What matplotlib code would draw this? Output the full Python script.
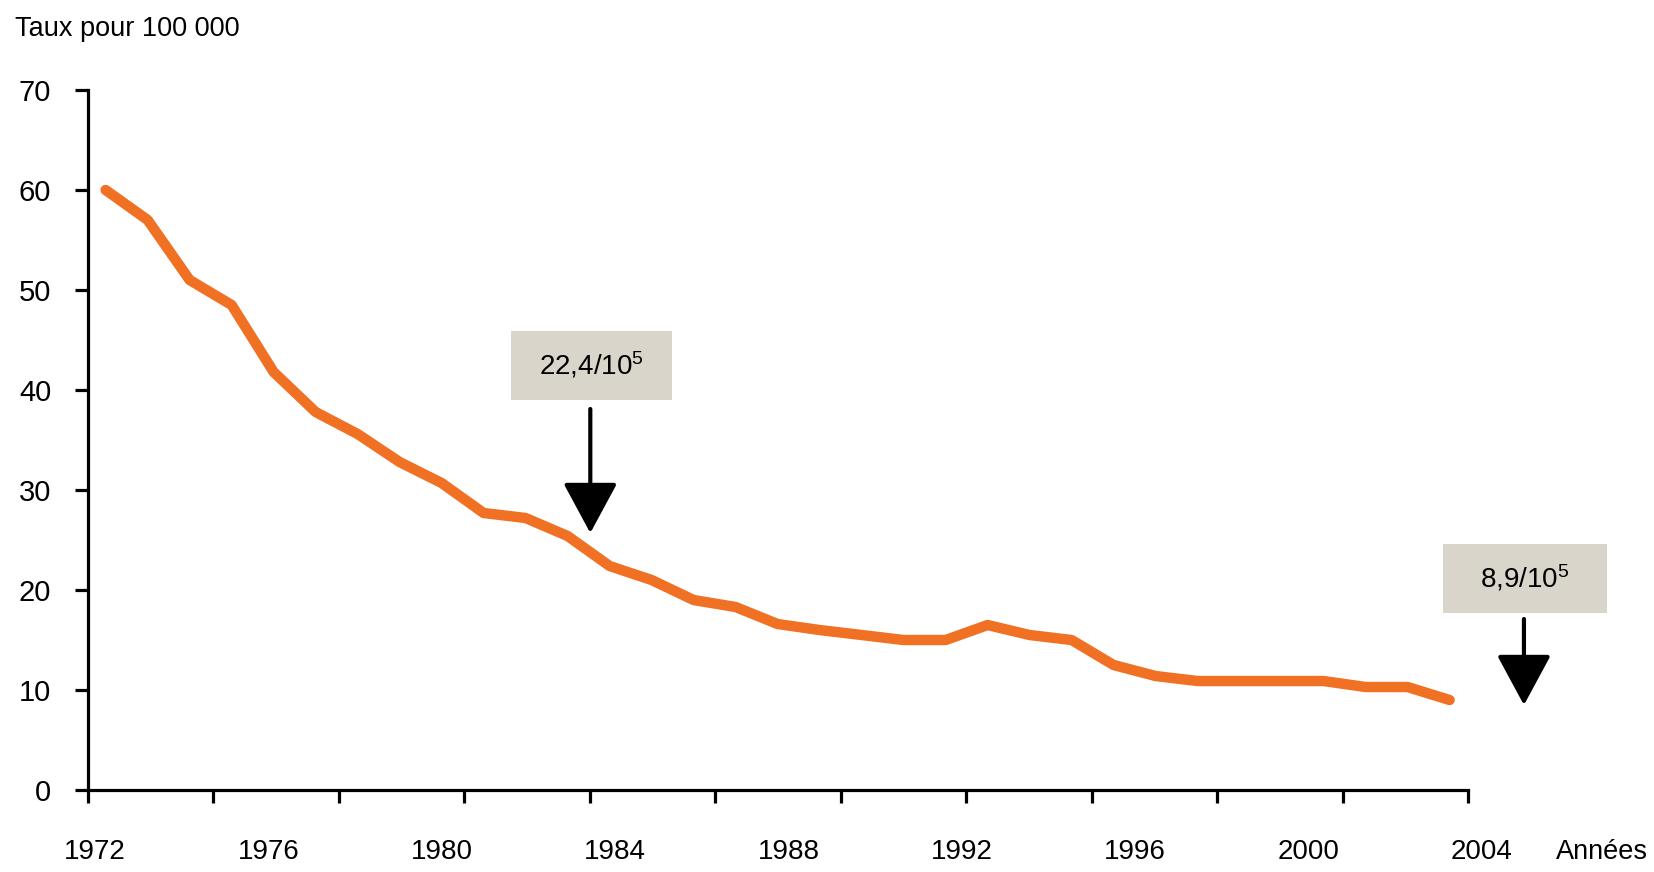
import matplotlib
matplotlib.use("Agg")
import matplotlib.pyplot as plt
from matplotlib.patches import Rectangle
import numpy as np

# ---- data ----
years = list(range(1972, 2005))
rates = [60.0, 57.0, 51.0, 48.5, 41.8, 37.8, 35.6, 32.8, 30.7, 27.7,
         27.2, 25.4, 22.4, 21.0, 19.0, 18.3, 16.6, 16.0, 15.5, 15.0,
         15.0, 16.5, 15.5, 15.0, 12.5, 11.4, 10.9, 10.9, 10.9, 10.9,
         10.3, 10.3, 9.0]
y_ticks = [0, 10, 20, 30, 40, 50, 60, 70]
x_labels = [1972, 1976, 1980, 1984, 1988, 1992, 1996, 2000, 2004]
ann1_text = "22,4/10$^{5}$"
ann2_text = "8,9/10$^{5}$"

FONT = ["Liberation Sans", "DejaVu Sans"]
plt.rcParams["font.family"] = FONT
plt.rcParams["mathtext.fontset"] = "custom"
plt.rcParams["mathtext.rm"] = "Liberation Sans"
plt.rcParams["mathtext.it"] = "Liberation Sans"
plt.rcParams["mathtext.bf"] = "Liberation Sans"
plt.rcParams["mathtext.default"] = "rm"

ORANGE = "#F07024"
BOXC = "#D9D5CB"

fig = plt.figure(figsize=(16.54, 8.72), dpi=100)
ax = fig.add_axes([0.0532, 0.0940, 0.8344, 0.8028])

ax.plot(years, rates, color=ORANGE, lw=7.5, solid_joinstyle="round",
        solid_capstyle="round", zorder=3)

xmin, xmax = 1971.58, 2004.44
ax.set_xlim(xmin, xmax)
ax.set_ylim(0, 70)

for s in ["top", "right"]:
    ax.spines[s].set_visible(False)
for s in ["left", "bottom"]:
    ax.spines[s].set_linewidth(2.3)
    ax.spines[s].set_color("black")

ax.set_yticks(y_ticks)
ax.set_yticklabels([str(v) for v in y_ticks], fontsize=21)
ax.set_xticks(np.linspace(xmin, xmax, 12))
ax.set_xticklabels([])
ax.tick_params(axis="both", direction="out", length=9.5, width=2.3, color="black")
ax.tick_params(axis="y", pad=17)

# year labels (placed on their own scale as in the reference)
lab_pos = np.interp(x_labels, [1972, 2004], [1971.75, 2004.77])
for yr, xp in zip(x_labels, lab_pos):
    ax.text(xp, -0.088, str(yr), transform=ax.get_xaxis_transform(),
            ha="center", va="center", fontsize=20, clip_on=False)

fig.text(1602 / 1654, 1 - 852 / 872, "Années", ha="center", va="center", fontsize=19.5)
fig.text(15 / 1654, 1 - 29 / 872, "Taux pour 100 000", ha="left", va="center", fontsize=19.5)

# annotation boxes + arrows
def annot(x0, x1, y0, y1, txt, ax_x, a_from, a_to):
    ax.add_patch(Rectangle((x0, y0), x1 - x0, y1 - y0, facecolor=BOXC,
                           edgecolor="none", clip_on=False, zorder=4))
    ax.text((x0 + x1) / 2, (y0 + y1) / 2, txt, ha="center", va="center",
            fontsize=20, zorder=5, clip_on=False)
    ax.annotate("", xy=(ax_x, a_to), xytext=(ax_x, a_from),
                arrowprops=dict(arrowstyle="-|>,head_length=31.5,head_width=17",
                                mutation_scale=1, lw=3, color="black",
                                shrinkA=0, shrinkB=0),
                annotation_clip=False, zorder=5)

annot(1981.65, 1985.49, 39.0, 45.9, ann1_text, 1983.54, 38.1, 25.7)
annot(2003.84, 2007.75, 17.7, 24.6, ann2_text, 2005.77, 17.1, 8.5)

fig.savefig("out.png", dpi=100)
